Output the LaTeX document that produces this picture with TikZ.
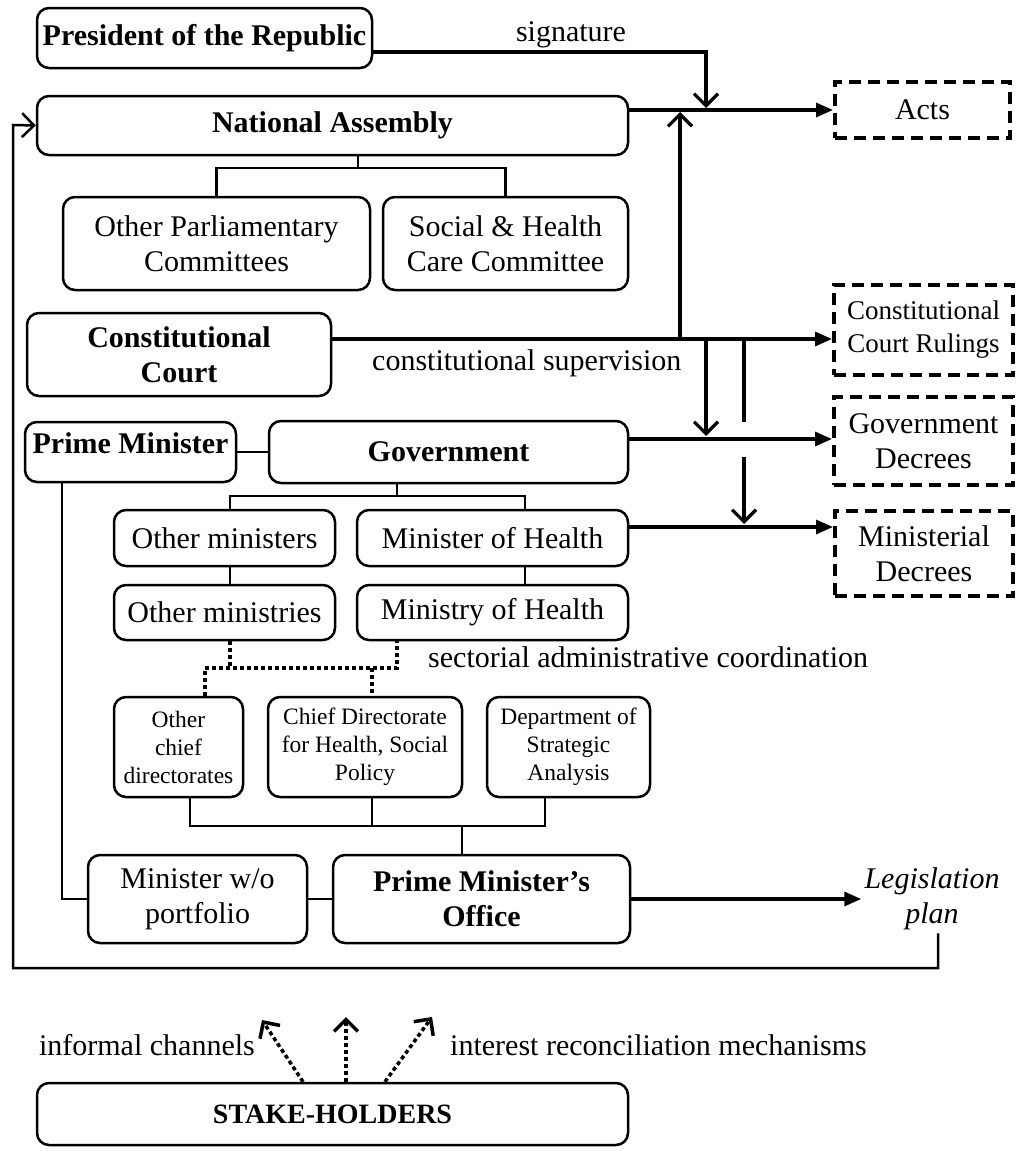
\documentclass[tikz,border=0pt]{standalone}
\usepackage{fontspec}
\setmainfont{Liberation Serif}
\usetikzlibrary{arrows.meta}
\begin{document}
\begin{tikzpicture}[x=1pt,y=-1pt,
 box/.style={draw, line width=2.5pt, rounded corners=12pt, align=center, inner sep=2pt, font=\fontsize{30}{35}\selectfont},
 bbox/.style={box, font=\fontsize{30}{35}\selectfont\bfseries},
 sbox/.style={box, font=\fontsize{23.5}{28}\selectfont},
 dbox/.style={draw, line width=4pt, dash pattern=on 12pt off 7pt, align=center, inner sep=2pt, font=\fontsize{30}{35}\selectfont},
 lbl/.style={font=\fontsize{30}{34}\selectfont, inner sep=0pt},
 tree/.style={line width=2.5pt},
 dots/.style={line width=4pt, dash pattern=on 4pt off 3pt},
 flow/.style={line width=3.2pt, -{Triangle[length=17pt,width=14pt]}},
 open/.style={line width=3.2pt, -{Straight Barb[length=12pt,width=24pt]}},
]
\useasboundingbox (0,0) rectangle (1017,1151);

% boxes
\node[bbox, minimum width=335pt, minimum height=60pt] (pres) at (204.5,38) {President of the Republic};
\node[bbox, minimum width=591pt, minimum height=59pt] (na) at (332.5,125.5) {National Assembly};
\node[box, minimum width=307pt, minimum height=93pt] (opc) at (216.5,243.5) {Other Parliamentary\\Committees};
\node[box, minimum width=245pt, minimum height=93pt] (shc) at (505.5,243.5) {Social \& Health\\Care Committee};
\node[bbox, minimum width=304pt, minimum height=83pt] (cc) at (179,354.5) {Constitutional\\Court};
\node[bbox, minimum width=211pt, minimum height=60pt, text height=22pt, text depth=20pt] (pm) at (130.5,452) {Prime Minister};
\node[bbox, minimum width=359pt, minimum height=62pt] (gov) at (448.5,452) {Government};
\node[box, minimum width=221pt, minimum height=56pt] (om1) at (224.5,538) {Other ministers};
\node[box, minimum width=271pt, minimum height=56pt] (moh1) at (492.5,538) {Minister of Health};
\node[box, minimum width=221pt, minimum height=55pt] (om2) at (224.5,612.5) {Other ministries};
\node[box, minimum width=271pt, minimum height=55pt, text height=21pt, text depth=7pt] (moh2) at (492.5,612.5) {Ministry of Health};
\node[sbox, minimum width=129pt, minimum height=100pt] (ocd) at (178.5,747) {Other\\chief\\directorates};
\node[sbox, minimum width=194pt, minimum height=100pt] (cdh) at (365,747) {Chief Directorate\\for Health, Social\\Policy};
\node[sbox, minimum width=163pt, minimum height=100pt] (dsa) at (568.5,747) {Department of\\Strategic\\Analysis};
\node[box, minimum width=219pt, minimum height=88pt] (mwp) at (197.5,899) {Minister w/o\\portfolio};
\node[bbox, minimum width=297pt, minimum height=88pt] (pmo) at (481.5,899) {Prime Minister’s\\Office};
\node[bbox, minimum width=591pt, minimum height=62pt, font=\fontsize{28}{32}\selectfont\bfseries] (stk) at (332.5,1114) {STAKE-HOLDERS};

\node[dbox, minimum width=175pt, minimum height=56pt] (acts) at (922.5,110) {Acts};
\node[dbox, minimum width=179pt, minimum height=90pt, font=\fontsize{27}{33}\selectfont] (ccr) at (923.5,330) {Constitutional\\Court Rulings};
\node[dbox, minimum width=179pt, minimum height=88pt] (gd) at (923.5,441) {Government\\Decrees};
\node[dbox, minimum width=178pt, minimum height=85pt] (md) at (924,553.5) {Ministerial\\Decrees};
\node[align=center, inner sep=3pt, font=\fontsize{30}{35}\selectfont\itshape] (leg) at (932,899) {Legislation\\plan};

% labels
\node[lbl, anchor=base] (lsig) at (571,41) {signature};
\node[lbl, anchor=base west] (lcs) at (372,370) {constitutional supervision};
\node[lbl, anchor=base west] (lsac) at (428,667) {sectorial administrative coordination};
\node[lbl, anchor=base east] (lic) at (255,1055) {informal channels};
\node[lbl, anchor=base west] (lir) at (450,1055) {interest reconciliation mechanisms};

% coordinates
\coordinate (naj) at (358,168);
\coordinate (gj) at (397,496);
\coordinate (xa) at (230,0);
\coordinate (xb) at (525,0);
\coordinate (d1) at (230,668);
\coordinate (d2) at (397,668);
\coordinate (d3) at (205,668);
\coordinate (d4) at (372,668);
\coordinate (b1) at (190,826);
\coordinate (b2) at (372,826);
\coordinate (b3) at (545,826);
\coordinate (b4) at (462,826);
\coordinate (p1) at (62,899);
\coordinate (s1) at (706,52);
\coordinate (s2) at (706,108);
\coordinate (a1) at (0,110);
\coordinate (c1) at (0,339);
\coordinate (u1) at (680,339);
\coordinate (u2) at (680,112);
\coordinate (v1) at (706,339);
\coordinate (v2) at (706,436);
\coordinate (w1) at (744,339);
\coordinate (w2) at (744,422);
\coordinate (w3) at (744,457);
\coordinate (w4) at (744,524);
\coordinate (g1) at (0,439);
\coordinate (m1) at (0,527);
\coordinate (l1) at (938,968);
\coordinate (l2) at (13,968);
\coordinate (l3) at (13,125);
\coordinate (k1) at (303,0);
\coordinate (k2) at (346,0);
\coordinate (k3) at (385,0);
\coordinate (t1) at (262,1020);
\coordinate (t2) at (346,1017);
\coordinate (t3) at (432,1017);

% trees
\draw[tree] (na.south -| naj) -- (naj);
\draw[tree] (opc.north) |- (naj) -| (shc.north);
\draw[tree] (gov.south -| gj) -- (gj);
\draw[tree] (om1.north -| xa) |- (gj) -| (moh1.north -| xb);
\draw[tree] (om1.south -| xa) -- (om2.north -| xa);
\draw[tree] (moh1.south -| xb) -- (moh2.north -| xb);
\draw[dots] (ocd.north -| d3) -- (d3) -- (d2) -- (moh2.south -| d2);
\draw[dots] (om2.south -| d1) -- (d1);
\draw[dots] (d4) -- (cdh.north -| d4);
\draw[tree] (ocd.south -| b1) -- (b1) -- (b3) -- (dsa.south -| b3);
\draw[tree] (cdh.south -| b2) -- (b2);
\draw[tree] (b4) -- (pmo.north -| b4);
\draw[tree] (pm.east) -- (gov.west);
\draw[tree] (pm.south -| p1) -- (p1) -- (mwp.west);
\draw[tree] (mwp.east) -- (pmo.west);

% flows
\draw[open] (pres.east |- s1) -- (s1) -- (s2);
\draw[flow] (na.east |- a1) -- (acts.west |- a1);
\draw[flow] (cc.east |- c1) -- (ccr.west |- c1);
\draw[open] (u1) -- (u2);
\draw[open] (v1) -- (v2);
\draw[line width=3.2pt] (w1) -- (w2);
\draw[open] (w3) -- (w4);
\draw[flow] (gov.east |- g1) -- (gd.west |- g1);
\draw[flow] (moh1.east |- m1) -- (md.west |- m1);
\draw[flow] (pmo.east) -- (leg.west);
\draw[open, line width=2.5pt] (leg.south -| l1) -- (l1) -- (l2) -- (l3) -- (na.west);

% stakeholder arrows
\draw[dots, line width=3.5pt, -{Straight Barb[length=12pt,width=24pt]}] (stk.north -| k1) -- (t1);
\draw[dots, line width=3.5pt, -{Straight Barb[length=12pt,width=24pt]}] (stk.north -| k2) -- (t2);
\draw[dots, line width=3.5pt, -{Straight Barb[length=12pt,width=24pt]}] (stk.north -| k3) -- (t3);
\end{tikzpicture}
\end{document}
